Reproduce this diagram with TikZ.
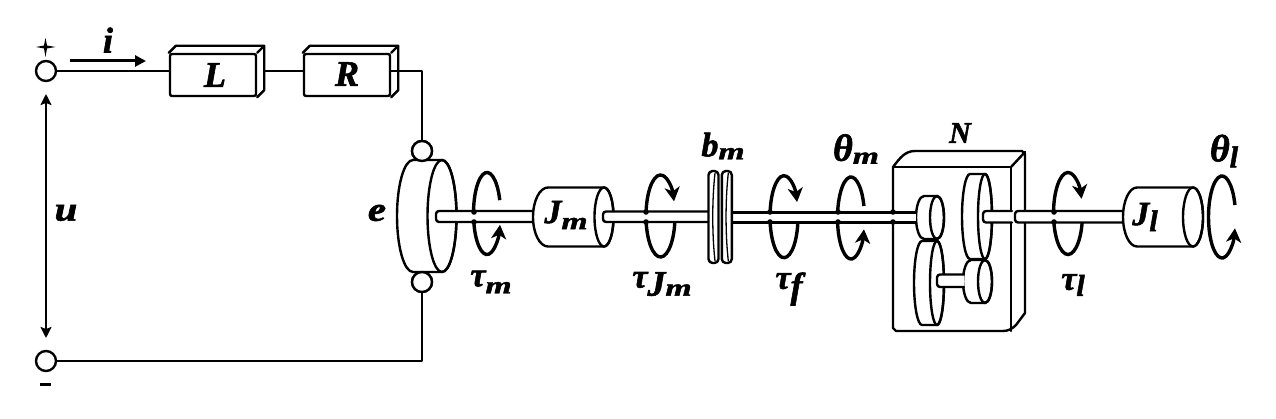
\documentclass[tikz,border=0pt]{standalone}
\usepackage{fontspec}
\setmainfont{Liberation Serif}[BoldItalicFeatures={FakeBold=1.6}]
\usetikzlibrary{arrows.meta,calc}
\newcommand{\fs}[1]{\fontsize{#1}{#1}\selectfont}
\newcommand{\sbm}[2][-5pt]{\raisebox{#1}{\scalebox{1.4}[1]{\fs{24}#2}}}
% cylinder: left extreme, start of straight part, ellipse centre, ellipse rx, cy, ry
\newcommand{\cylin}[6]{%
  \draw[part,fill=white] (#3,#5-#6) -- (#2,#5-#6)
    arc[start angle=90,end angle=270,x radius={(#2-#1)*1pt},y radius={#6*1pt}]
    -- (#3,#5+#6)
    arc[start angle=-90,end angle=90,x radius={#4*1pt},y radius={#6*1pt}] -- cycle;
  \draw[part] (#3,#5) ellipse[x radius={#4*1pt},y radius={#6*1pt}];}
% shaft: x1 (closed end), x2 (open end), y1, y2
\newcommand{\shaftr}[4]{%
  \fill[white] (#1+1,#3) rectangle (#2,#4);
  \draw[part,rounded corners=3pt] (#2,#3) -- (#1,#3) -- (#1,#4) -- (#2,#4);}
\newcommand{\shaftbar}[4]{%
  \fill[white] (#1,#3) rectangle (#2,#4);
  \draw[part] (#2,#3) -- (#1,#3) (#1,#4) -- (#2,#4);}
% torque ring: cx,cy,rx,ry,start,end
\newcommand{\ringarr}[6]{%
  \draw[ringline] ($(#1,#2)+(#5:#3pt and #4pt)$)
    arc[start angle=#5,end angle=#6,x radius=#3pt,y radius=#4pt];}
\newcommand{\blobs}[1]{\fill (#1,212) circle[radius=2.8pt] (#1,222) circle[radius=2.8pt];}
\newcommand{\boxdepth}[1]{%
  \draw[part] (#1.north west) ++(7,-7) -- ($(#1.north east)+(7,-7)$) -- ($(#1.south east)+(7,-7)$) -- (#1.south east);
  \draw[part] (#1.north west) -- ++(7,-7);
  \draw[part] (#1.north east) -- ++(7,-7);}
\tikzset{
  part/.style={line width=2.4pt,line join=round,line cap=round},
  ringline/.style={line width=3.4pt,-{Stealth[length=14pt,width=15pt,inset=4pt]}},
  terminal/.style={circle,draw,line width=2.4pt,fill=white,minimum size=20pt,inner sep=0pt},
  elem/.style={draw,rounded corners=2pt,line width=2.4pt,fill=white,minimum width=86pt,minimum height=42pt,inner sep=0pt},
  lab/.style={font=\bfseries\itshape\fs{34},inner sep=0pt},
  volt/.style={line width=2.4pt,{Stealth[length=11pt,width=11pt,inset=2pt]}-{Stealth[length=11pt,width=11pt,inset=2pt]}},
  cur/.style={line width=3pt,-{Stealth[length=11pt,width=11pt,inset=0pt]}}
}
\begin{document}
\begin{tikzpicture}[x=1pt,y=-1pt]
\useasboundingbox (0,0) rectangle (1276,419);
% circuit
\node[terminal] (tp) at (46,71) {};
\node[terminal] (tn) at (46,361) {};
\node[terminal] (bt) at (422,151) {};
\node[terminal] (bb) at (422,282) {};
\node[elem] (Lb) at (213,75) {};
\node[elem] (Rb) at (347,75) {};
\boxdepth{Lb}\boxdepth{Rb}
\node[lab] (Lt) at (215,75) {\fs{36}L};
\node[lab] (Rt) at (347,74) {\fs{36}R};
\draw[part] (tp.east) -- (Lb.west |- tp);
\draw[part] ($(Lb.east |- tp)+(7,0)$) -- (Rb.west |- tp);
\draw[part] (Rb.east |- tp) -| (bt.north);
\draw[part,line cap=butt] (bb.south) |- (tn.east);
\coordinate (ua) at (46,94);
\coordinate (ub) at (46,338);
\draw[volt] (ua) -- (ub);
\coordinate (ia) at (70,61);
\coordinate (ib) at (146,61);
\draw[cur] (ia) -- (ib);
\fill (45.5,38) -- (47,45.5) -- (55.5,47) -- (47,48.5) -- (45.5,57) -- (44,48.5) -- (36,47) -- (44,45.5) -- cycle;
\fill (40,382.5) rectangle (51,386);
\node[lab] (it) at (108,40) {\fs{36}i};
\node[lab] (ut) at (66,213) {\scalebox{1.2}[1]{u}};
\node[lab] (et) at (377,213) {\scalebox{1.2}[1]{e}};
% torque rings
\ringarr{487}{213.5}{13.5}{41}{19}{344}
\ringarr{660.5}{216}{14.5}{41}{-10}{-339}
\ringarr{784}{216.7}{14}{41}{-10}{-339}
\ringarr{851}{218}{13.5}{41}{17}{344}
\ringarr{1068}{213.5}{14.5}{41}{-11}{-339}
\ringarr{1222}{217}{13.5}{41}{17}{344}
% motor
\cylin{397}{413}{442}{14.5}{216}{56}
\node[terminal] at (bt) {};
\node[terminal] at (bb) {};
\shaftr{436}{534}{211}{222}
% Jm
\cylin{533}{548}{604}{9.5}{217}{29.5}
\shaftr{603}{710}{211.5}{222}
% gearbox
\draw[part,fill=white] (893,167) .. controls (900,158) and (905,151) .. (915,151)
  -- (1022,151) -- (1025,154) -- (1025,313) -- (1016,325) .. controls (1012,329) and (1008,331) .. (1003,331)
  -- (896,331) -- (893,328) -- cycle;
\draw[part] (893,167) -- (1011,167) -- (1011,331);
\draw[part] (1011,167) -- (1025,152);
\cylin{914}{922}{937}{7}{283}{42}
\cylin{916}{924}{937}{7}{217.5}{21.5}
\cylin{963}{971}{985}{7}{281.5}{21.5}
\cylin{962}{970}{985}{7}{216.5}{42.5}
\shaftr{937}{964}{274.5}{287}
\shaftr{983}{1012}{211}{222.5}
\shaftr{1015}{1123}{211}{222.5}
\shaftbar{732}{916}{212.5}{222.5}
% friction discs
\foreach \dx in {713.5,726.8}{
  \draw[part,fill=white,rounded corners=4pt] (\dx-5,171) rectangle (\dx+5,263);
  \draw[line width=1.3pt] (\dx+1.5,173) .. controls (\dx-1.5,200) and (\dx-1.5,234) .. (\dx+1.5,261);
}
% Jl
\cylin{1123}{1137}{1193}{10}{217}{29.5}
\blobs{474}\blobs{646}\blobs{770}\blobs{838}\blobs{893}\blobs{1054}
% labels
\node[lab] (jm) at (566,215) {J\sbm[-6pt]{m}};
\node[lab] (jl) at (1145,217) {J\raisebox{-6pt}{\fs{30}l}};
\node[lab] (tm) at (491,282) {\fs{34}τ\sbm[-7pt]{m}};
\node[lab] (tj) at (662,284) {\fs{34}τ\raisebox{-8pt}{\fs{36}J\sbm[0pt]{m}}};
\node[lab] (tf) at (789,289) {\fs{34}τ\raisebox{-9pt}{\fs{36}f}};
\node[lab] (tl) at (1073,285) {\fs{34}τ\raisebox{-6pt}{\fs{30}l}};
\node[lab] (bm) at (723,146) {b\sbm[-3pt]{m}};
\node[lab] (thm) at (856,149) {\fs{38}θ\sbm[-3pt]{m}};
\node[lab] (thl) at (1224,151) {\fs{38}θ\raisebox{-6pt}{\fs{30}l}};
\node[lab] (Nt) at (960,133) {\fs{30}N};
\end{tikzpicture}
\end{document}
